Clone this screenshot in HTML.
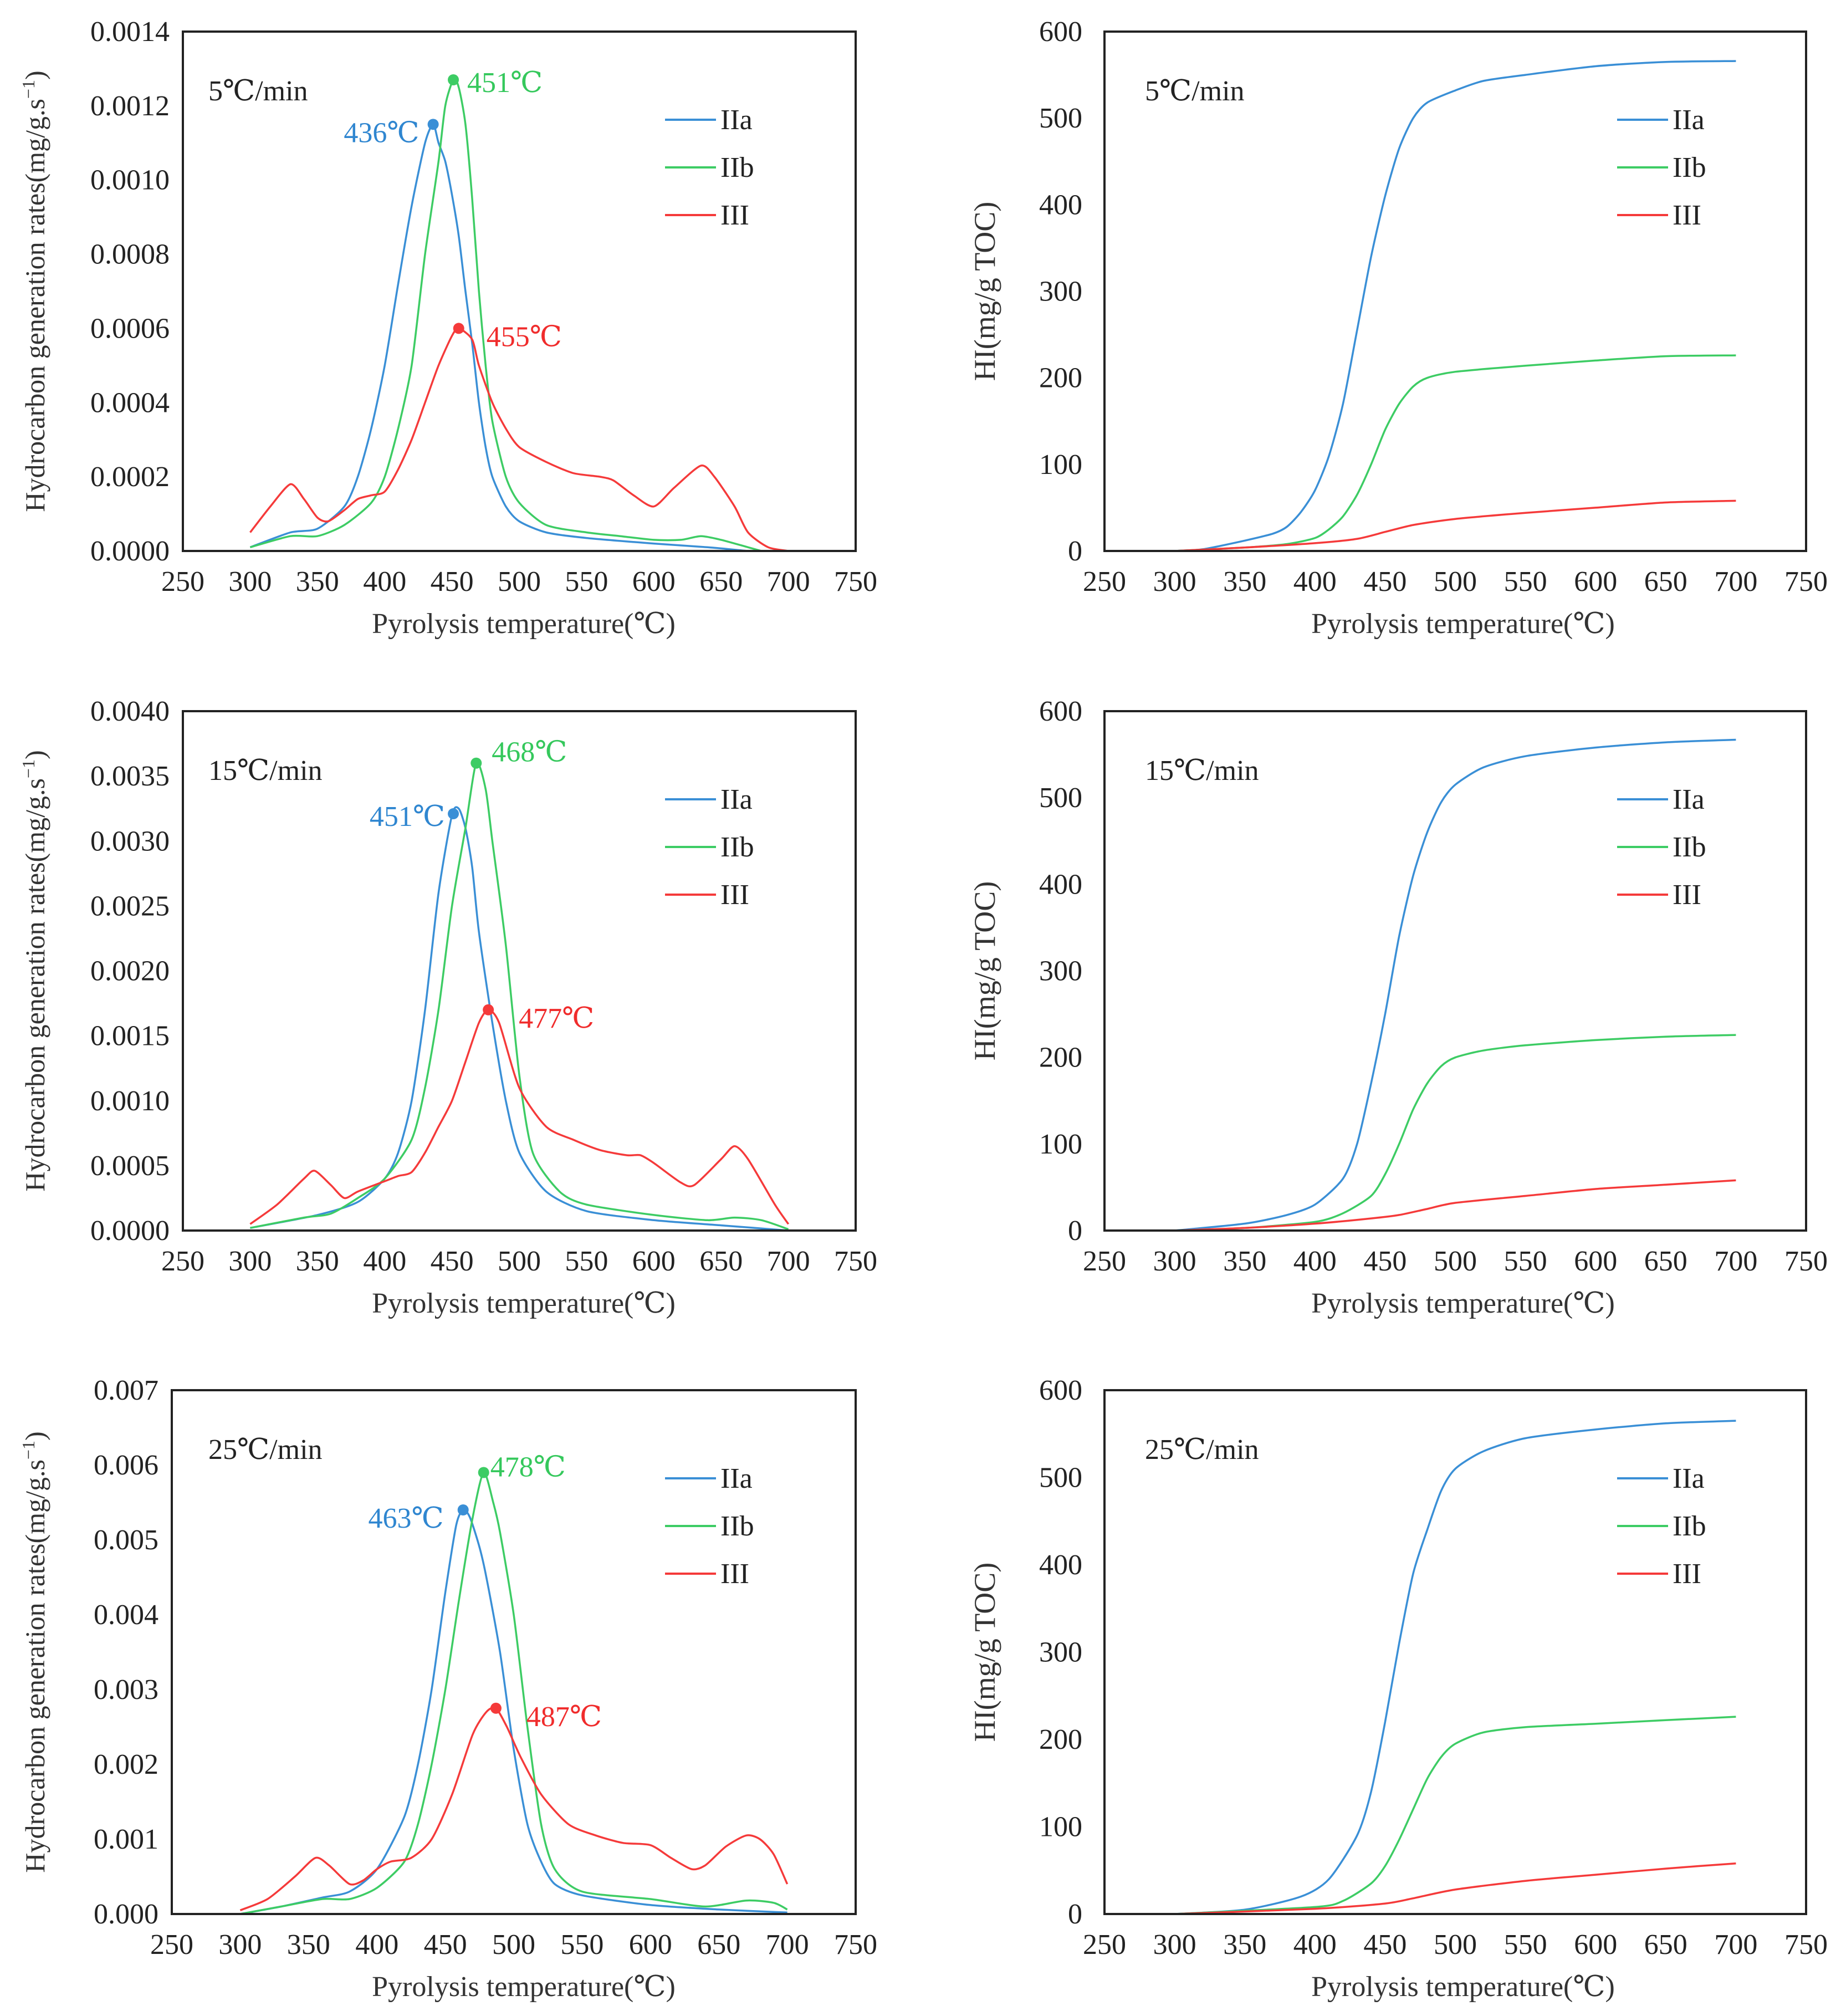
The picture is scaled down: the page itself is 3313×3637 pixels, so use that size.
<!DOCTYPE html>
<html><head><meta charset="utf-8">
<style>
html,body{margin:0;padding:0;background:#fff;}
svg{display:block;font-family:"Liberation Serif","DejaVu Serif",serif;}
</style></head>
<body>
<svg id="fig" width="3313" height="3637" viewBox="0 0 3313 3637" xmlns="http://www.w3.org/2000/svg"></svg>
<script>
// ---- data ----
const rateLabels = ["5℃/min","15℃/min","25℃/min"];
const rateMax = [0.0014, 0.0040, 0.007];
const rateStep = [0.0002, 0.0005, 0.001];
const rateDec = [4, 4, 3];
const peakTemps = [[436,451,455],[451,468,477],[463,478,487]];
const seriesNames = ["IIa","IIb","III"];
const xTicks = [250,300,350,400,450,500,550,600,650,700,750];
const hiTicks = [0,100,200,300,400,500,600];

const r5_IIa = [[300,0.00001],[330,0.00005],[350,0.00006],[370,0.00012],[380,0.0002],[390,0.00033],[400,0.0005],[410,0.00072],[420,0.00093],[430,0.0011],[436,0.00115],[440,0.0011],[445,0.00105],[450,0.00096],[455,0.00085],[460,0.0007],[465,0.00056],[470,0.0004],[475,0.00028],[480,0.0002],[490,0.00012],[500,0.00008],[520,0.00005],[550,0.000035],[600,0.00002],[640,0.00001],[670,0]];
const r5_IIb = [[300,0.00001],[330,0.00004],[350,0.00004],[370,0.00007],[390,0.00013],[400,0.0002],[410,0.00033],[420,0.0005],[430,0.0008],[440,0.00105],[445,0.0012],[451,0.00127],[455,0.00125],[460,0.00115],[465,0.00095],[470,0.0007],[475,0.0005],[480,0.00035],[490,0.0002],[500,0.00013],[520,0.00007],[550,0.00005],[575,0.00004],[600,0.00003],[620,0.00003],[635,0.00004],[650,0.00003],[670,0.00001],[680,0]];
const r5_III = [[300,0.00005],[315,0.00012],[330,0.00018],[340,0.00014],[350,0.00009],[358,0.00008],[370,0.00011],[380,0.00014],[390,0.00015],[400,0.00016],[410,0.00022],[420,0.0003],[430,0.0004],[440,0.0005],[450,0.00058],[455,0.0006],[465,0.00057],[470,0.0005],[480,0.0004],[490,0.00033],[500,0.00028],[520,0.00024],[540,0.00021],[560,0.0002],[570,0.00019],[585,0.00015],[600,0.00012],[615,0.00017],[635,0.00023],[645,0.0002],[660,0.00012],[670,0.00005],[685,0.00001],[700,0]];
const r15_IIa = [[300,0.00002],[350,0.00012],[380,0.00022],[400,0.0004],[410,0.0006],[420,0.001],[430,0.0017],[440,0.0026],[450,0.0032],[455,0.00325],[460,0.0031],[465,0.0028],[470,0.0023],[480,0.0016],[490,0.001],[500,0.0006],[520,0.0003],[550,0.00015],[600,0.00008],[650,0.00004],[700,0]];
const r15_IIb = [[300,0.00002],[340,0.0001],[360,0.00013],[380,0.00025],[400,0.0004],[420,0.0007],[430,0.0011],[440,0.0017],[450,0.0025],[460,0.0031],[468,0.0036],[475,0.0034],[480,0.003],[490,0.0022],[500,0.0012],[510,0.0006],[530,0.0003],[550,0.0002],[600,0.00012],[640,0.00008],[660,0.0001],[680,0.00008],[700,0.00001]];
const r15_III = [[300,0.00005],[320,0.0002],[340,0.0004],[348,0.00046],[360,0.00035],[370,0.00025],[380,0.0003],[400,0.00038],[410,0.00042],[420,0.00045],[430,0.0006],[440,0.0008],[450,0.001],[460,0.0013],[470,0.0016],[477,0.0017],[485,0.0016],[500,0.0011],[520,0.0008],[540,0.0007],[560,0.00062],[580,0.00058],[590,0.00058],[600,0.00052],[620,0.00037],[630,0.00035],[650,0.00055],[660,0.00065],[670,0.00055],[690,0.0002],[700,0.00005]];
const r25_IIa = [[300,0],[330,0.0001],[360,0.00022],[380,0.0003],[400,0.0006],[420,0.0013],[430,0.002],[440,0.003],[450,0.0043],[458,0.0052],[463,0.0054],[468,0.0053],[475,0.0049],[480,0.0045],[490,0.0035],[500,0.0022],[510,0.0012],[520,0.0007],[530,0.0004],[550,0.00025],[600,0.00012],[650,0.00006],[700,0.00002]];
const r25_IIb = [[300,0],[330,0.0001],[360,0.0002],[380,0.0002],[400,0.00035],[420,0.0007],[430,0.0012],[440,0.002],[450,0.003],[460,0.0042],[470,0.0053],[478,0.0059],[485,0.0055],[490,0.0051],[500,0.004],[510,0.0025],[520,0.0012],[530,0.0006],[550,0.0003],[600,0.0002],[640,0.0001],[670,0.00018],[690,0.00015],[700,0.00006]];
const r25_III = [[300,0.00005],[320,0.0002],[340,0.0005],[355,0.00075],[365,0.00065],[380,0.0004],[390,0.00045],[400,0.0006],[410,0.0007],[425,0.00075],[440,0.001],[455,0.0016],[470,0.0024],[480,0.0027],[487,0.00275],[495,0.0025],[505,0.0021],[520,0.0016],[540,0.0012],[560,0.00105],[580,0.00095],[600,0.00092],[615,0.00075],[630,0.0006],[640,0.00065],[655,0.0009],[670,0.00105],[680,0.001],[690,0.0008],[700,0.0004]];
const h5_IIa = [[300,0],[320,2],[350,12],[370,20],[380,28],[390,45],[400,70],[410,110],[420,170],[430,255],[440,340],[450,410],[460,465],[470,500],[480,518],[500,532],[520,543],[550,550],[600,560],[650,565],[700,566]];
const h5_IIb = [[300,0],[350,4],[380,8],[400,15],[410,25],[420,40],[430,65],[440,100],[450,140],[460,170],[470,190],[480,200],[500,207],[550,214],[600,220],[650,225],[700,226]];
const h5_III = [[300,0],[350,4],[400,9],[430,14],[450,22],[470,30],[500,37],[550,44],[600,50],[650,56],[700,58]];
const h15_IIa = [[300,0],[350,8],[380,18],[400,30],[420,60],[430,100],[440,170],[450,250],[460,340],[470,410],[480,460],[490,495],[500,515],[520,535],[550,548],[600,558],[650,564],[700,567]];
const h15_IIb = [[300,0],[350,3],[400,10],[420,20],[440,40],[450,65],[460,100],[470,140],[480,170],[490,190],[500,200],[520,208],[550,214],[600,220],[650,224],[700,226]];
const h15_III = [[300,0],[350,3],[400,8],[440,14],[460,18],[480,25],[500,32],[550,40],[600,48],[650,53],[700,58]];
const h25_IIa = [[300,0],[350,5],[390,20],[410,40],[430,90],[440,140],[450,220],[460,310],[470,390],[480,440],[490,485],[500,510],[520,530],[550,545],[600,555],[650,562],[700,565]];
const h25_IIb = [[300,0],[400,8],[420,15],[440,35],[450,55],[460,85],[470,120],[480,155],[490,180],[500,195],[520,208],[550,214],[600,218],[650,222],[700,226]];
const h25_III = [[300,0],[400,6],[450,12],[470,18],[500,28],[550,38],[600,45],[650,52],[700,58]];

const rateSeries = [[r5_IIa,r5_IIb,r5_III],[r15_IIa,r15_IIb,r15_III],[r25_IIa,r25_IIb,r25_III]];
const hiSeries = [[h5_IIa,h5_IIb,h5_III],[h15_IIa,h15_IIb,h15_III],[h25_IIa,h25_IIb,h25_III]];

const colors = ["#3a8fd6","#3dcc64","#f53a3a"];
const textColors = ["#2f86d0","#35c85c","#f02c2c"];
const rows = [{t:57,b:994},{t:1283,b:2220},{t:2508,b:3453}];
const leftX = [{l:330,r:1544},{l:330,r:1544},{l:310,r:1544}];
const rightX = {l:1993,r:3259};
const peakOff = [
 [[-25,15,"end"],[25,5,"start"],[50,15,"start"]],
 [[-15,5,"end"],[28,-20,"start"],[55,15,"start"]],
 [[-35,15,"end"],[12,-10,"start"],[55,15,"start"]]
];
const NS="http://www.w3.org/2000/svg";
const svg=document.getElementById('fig');
function mk(tag,attrs,parent,txt){const e=document.createElementNS(NS,tag);for(const k in attrs)e.setAttribute(k,attrs[k]);if(txt!==undefined)e.textContent=txt;(parent||svg).appendChild(e);return e;}
function interp(data,t){for(let i=0;i<data.length-1;i++){if(t>=data[i][0]&&t<=data[i+1][0]){const f=(t-data[i][0])/(data[i+1][0]-data[i][0]);return data[i][1]+f*(data[i+1][1]-data[i][1]);}}return data[data.length-1][1];}
function smooth(P){
  let d='M'+P[0][0].toFixed(1)+','+P[0][1].toFixed(1);
  for(let i=0;i<P.length-1;i++){
    const p0=P[Math.max(0,i-1)],p1=P[i],p2=P[i+1],p3=P[Math.min(P.length-1,i+2)];
    const c1x=p1[0]+(p2[0]-p0[0])/8,c1y=p1[1]+(p2[1]-p0[1])/8;
    const c2x=p2[0]-(p3[0]-p1[0])/8,c2y=p2[1]-(p3[1]-p1[1])/8;
    d+=` C${c1x.toFixed(1)},${c1y.toFixed(1)} ${c2x.toFixed(1)},${c2y.toFixed(1)} ${p2[0].toFixed(1)},${p2[1].toFixed(1)}`;
  }
  return d;
}

function drawPanel(box,ymax,yticks,fmt,series,isHI,rateLabel,peaks,pOff,name){
  const g=mk('g',{},svg);
  
  
  const X=v=>box.l+(v-250)/500*(box.r-box.l);
  const Y=v=>box.b-v/ymax*(box.b-box.t);
  yticks.forEach(v=>{
    const t=mk('text',{x:box.l-(isHI?40:24),y:Y(v)+17,'text-anchor':'end','font-size':52,fill:'#222'},g,fmt(v));
    
    
  });
  xTicks.forEach(v=>{
    const t=mk('text',{x:X(v),y:box.b+72,'text-anchor':'middle','font-size':52,fill:'#222'},g,String(v));
    
    
  });
  series.forEach((d,i)=>{
    const P=d.map(p=>[X(p[0]),Y(p[1])]);
    const pl=mk('path',{d:smooth(P),fill:'none',stroke:colors[i],'stroke-width':3.5,'stroke-linejoin':'round'},g);
    
    
  });
  if(peaks){
    peaks.forEach((pt,i)=>{
      const px=X(pt),py=Y(interp(series[i],pt));
      const c=mk('circle',{cx:px,cy:py,r:10,fill:colors[i]},g);
      
      
      const o=pOff[i];
      const t=mk('text',{x:px+o[0],y:py+o[1]+17,'text-anchor':o[2],'font-size':52,fill:textColors[i]},g,pt+'℃');
      
      
    });
  }
  const f=mk('rect',{x:box.l,y:box.t,width:box.r-box.l,height:box.b-box.t,fill:'none',stroke:'#222','stroke-width':4},g);
  
  
  const rlx=isHI?2066:376;
  const rl=mk('text',{x:rlx,y:box.t+124,'font-size':52,fill:'#222'},g,rateLabel);
  
  
  const lx=isHI?2918:1200;
  seriesNames.forEach((s,i)=>{
    const yy=box.t+159+i*86;
    const ln=mk('line',{x1:lx,y1:yy,x2:lx+92,y2:yy,stroke:colors[i],'stroke-width':4},g);
    
    
    const lt=mk('text',{x:lx+100,y:yy+17,'font-size':52,fill:'#222'},g,s);
    
    
  });
  const xt=mk('text',{x:isHI?2640:945,y:box.b+148,'text-anchor':'middle','font-size':52,fill:'#333'},g,'Pyrolysis temperature(℃)');
  
  
  const yx=isHI?1795:80;
  const yc=(box.t+box.b)/2;
  const yt=mk('text',{x:yx,y:yc,'text-anchor':'middle','font-size':isHI?54:50,fill:'#333',transform:`rotate(-90 ${yx} ${yc})`},g);
  
  
  if(isHI){yt.textContent='HI(mg/g TOC)';}
  else{
    mk('tspan',{},yt,'Hydrocarbon generation rates(mg/g.s');
    mk('tspan',{dy:-18,'font-size':32},yt,'−1');
    mk('tspan',{dy:18},yt,')');
  }
}

for(let r=0;r<3;r++){
  const box={l:leftX[r].l,r:leftX[r].r,t:rows[r].t,b:rows[r].b};
  const ticks=[];const n=Math.round(rateMax[r]/rateStep[r]);
  for(let i=0;i<=n;i++)ticks.push(i*rateStep[r]);
  drawPanel(box,rateMax[r],ticks,v=>v.toFixed(rateDec[r]),rateSeries[r],false,rateLabels[r],peakTemps[r],peakOff[r],'rate-chart-'+(r+1));
  const box2={l:rightX.l,r:rightX.r,t:rows[r].t,b:rows[r].b};
  drawPanel(box2,600,hiTicks,v=>String(v),hiSeries[r],true,rateLabels[r],null,null,'hi-chart-'+(r+1));
}
</script>
</body></html>
